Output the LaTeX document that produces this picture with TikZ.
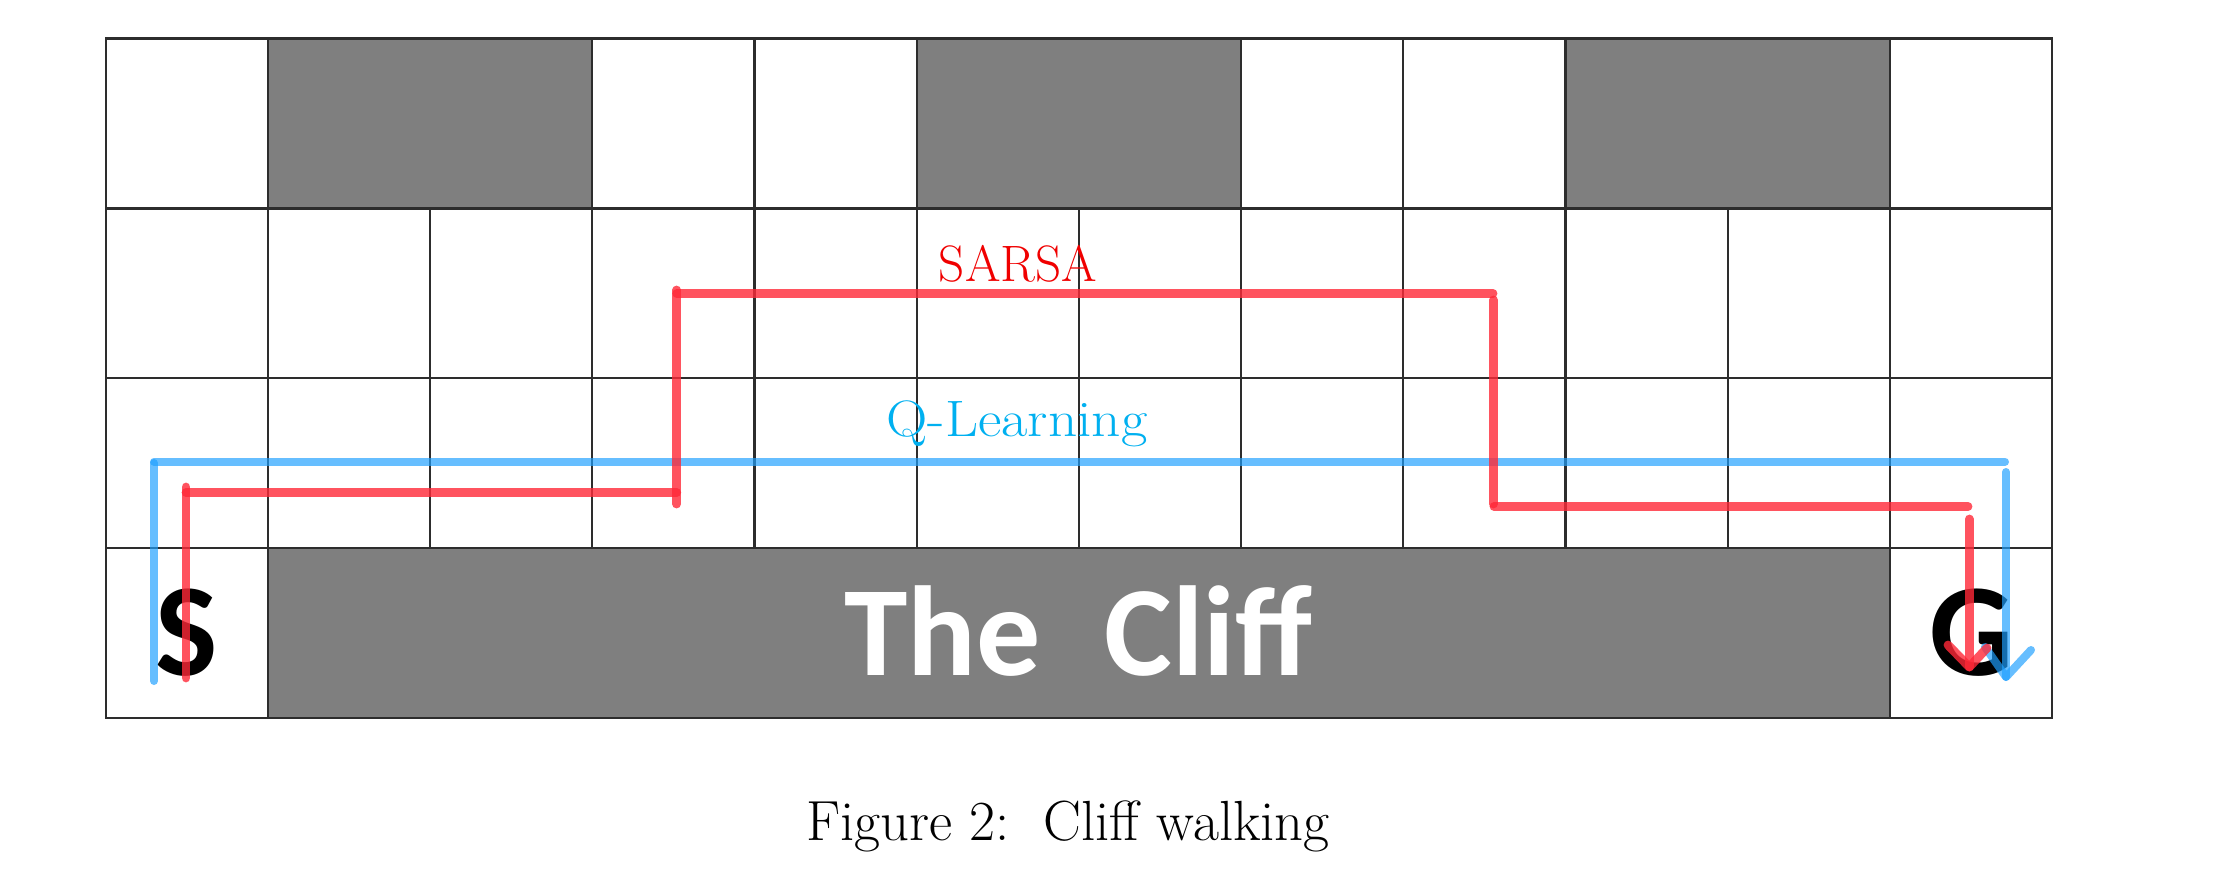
\documentclass[tikz,border=0pt]{standalone}
\usepackage{fontspec}
\newfontfamily\calfont{Carlito}
\begin{document}
\begin{tikzpicture}[x=0.5pt,y=-0.5pt]
\definecolor{cliffgray}{RGB}{127,127,127}
\definecolor{gridline}{RGB}{45,45,45}
\definecolor{sarsared}{RGB}{255,40,55}
\definecolor{qblue}{RGB}{30,160,255}
\definecolor{sarsatext}{RGB}{240,0,0}
\definecolor{qtext}{RGB}{0,176,240}
\tikzset{
  cell/.style={draw=gridline,line width=1.1pt},
  dark/.style={cell,fill=cliffgray},
  bigletter/.style={anchor=base,inner sep=0pt,font=\calfont\bfseries\fontsize{66}{72}\selectfont},
  pathlabel/.style={anchor=base,inner sep=0pt,font=\fontsize{25.6}{30}\selectfont},
  sarsapath/.style={draw=sarsared,draw opacity=0.8,line width=4.4pt,line cap=round,line join=round},
  qpath/.style={draw=qblue,draw opacity=0.68,line width=4pt,line cap=round,line join=round}
}
\useasboundingbox (0,0) rectangle (2238,894);
\fill[white] (0,0) rectangle (2238,894);
\begin{scope}[shift={(105.6,38.5)},xscale=162.2,yscale=169.9]
  \foreach \r in {1,2} \foreach \c in {0,...,11} \draw[cell] (\c,\r) rectangle ++(1,1);
  \foreach \c in {0,3,4,7,8,11} \draw[cell] (\c,0) rectangle ++(1,1);
  \foreach \c in {1,5,9} \draw[dark] (\c,0) rectangle ++(2,1);
  \draw[cell] (0,3) rectangle (1,4);
  \draw[cell] (11,3) rectangle (12,4);
  \draw[dark] (1,3) rectangle (11,4);
\end{scope}
% texts
\node[bigletter] (S) at (187,675) {S};
\node[bigletter] (G) at (1972,675) {G};
\node[bigletter,text=white,font=\calfont\bfseries\fontsize{64}{70}\selectfont] (cliff) at (1078,675) {The\hspace{0.5em}Cliff};
\node[pathlabel,text=sarsatext] (sarsa) at (1018,281.7) {SARSA};
\node[pathlabel,text=qtext,xscale=1.12] (qlabel) at (1017,436.7) {Q-Learning};
\node[anchor=base,inner sep=0pt,font=\fontsize{28.3}{34}\selectfont] (caption) at (1068,840) {Figure 2:\ \ Cliff walking};
% Q-learning path
\coordinate (q1) at (154,681);
\coordinate (q2) at (154,463);
\coordinate (q3) at (154,461.7);
\coordinate (q4) at (2005,461.7);
\coordinate (q5) at (2006,472);
\coordinate (q6) at (2006,677);
\coordinate (qa) at (1985,647);
\coordinate (qb) at (2031,650);
\draw[qpath] (q1) -- (q2);
\draw[qpath] (q3) -- (q4);
\draw[qpath] (q5) -- (q6);
\draw[qpath] (qa) -- (q6) -- (qb);
% SARSA path
\coordinate (s1) at (186,678);
\coordinate (s2) at (186,487);
\coordinate (s3) at (186,492.5);
\coordinate (s4) at (676.7,492.5);
\coordinate (s5) at (676.7,504);
\coordinate (s6) at (676.7,290);
\coordinate (s7) at (676.7,293.5);
\coordinate (s8) at (1493,293.5);
\coordinate (s9) at (1493.5,300);
\coordinate (s10) at (1493.5,504);
\coordinate (s11) at (1494,506.5);
\coordinate (s12) at (1968,506.5);
\coordinate (s13) at (1969.3,519);
\coordinate (s14) at (1969.3,667);
\coordinate (sa) at (1948,645);
\coordinate (sb) at (1987,648);
\draw[sarsapath] (s1) -- (s2);
\draw[sarsapath] (s3) -- (s4);
\draw[sarsapath] (s5) -- (s6);
\draw[sarsapath] (s7) -- (s8);
\draw[sarsapath] (s9) -- (s10);
\draw[sarsapath] (s11) -- (s12);
\draw[sarsapath] (s13) -- (s14);
\draw[sarsapath] (sa) -- (s14) -- (sb);
\end{tikzpicture}
\end{document}
